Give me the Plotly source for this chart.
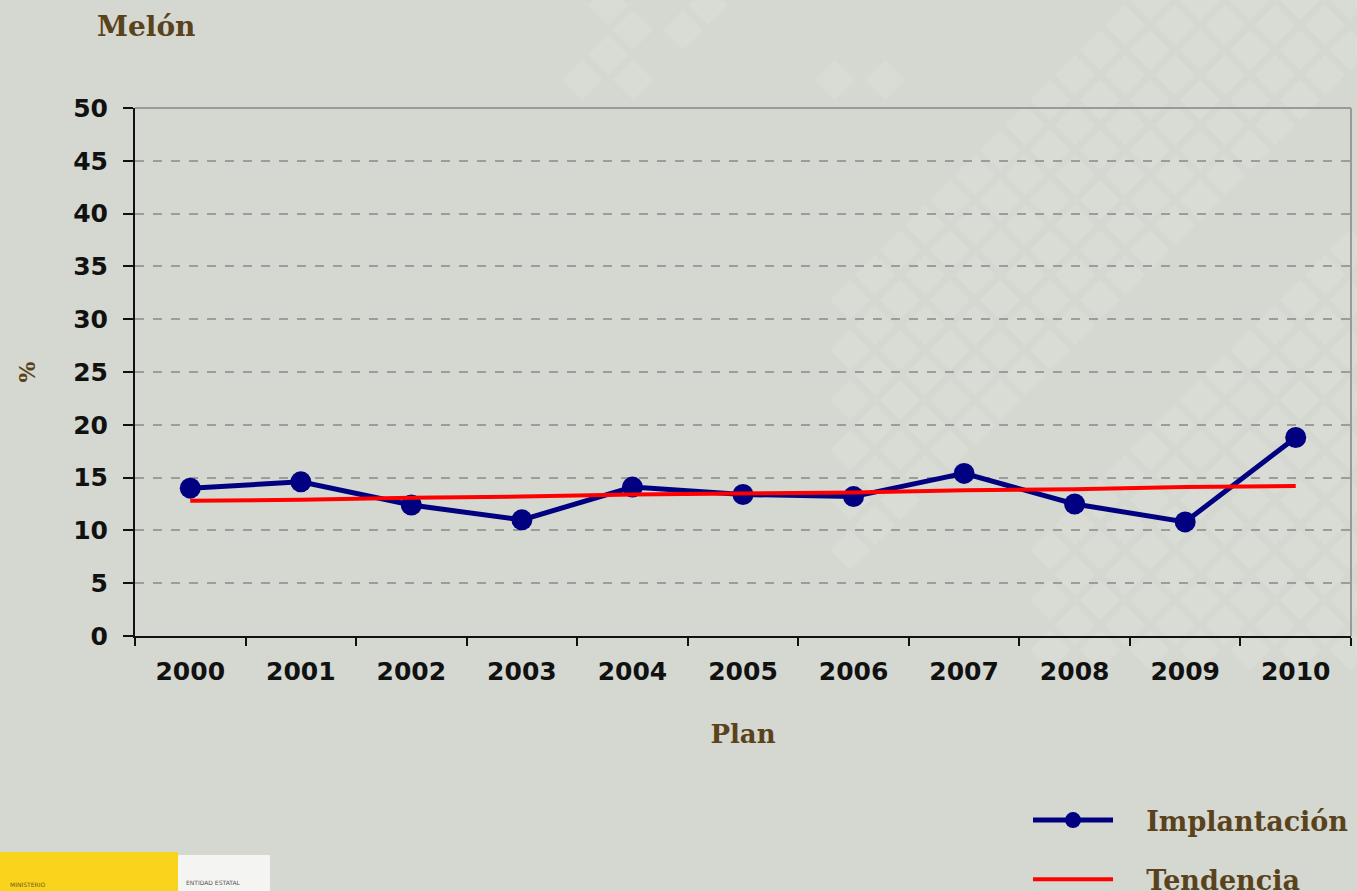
import plotly.graph_objects as go

years = ["2000", "2001", "2002", "2003", "2004", "2005", "2006", "2007", "2008", "2009", "2010"]
implantacion = [14.0, 14.6, 12.4, 11.0, 14.1, 13.4, 13.2, 15.4, 12.5, 10.8, 18.8]
tendencia = [12.8, 12.9, 13.1, 13.2, 13.4, 13.5, 13.6, 13.8, 13.9, 14.1, 14.2]
y_ticks = [0, 5, 10, 15, 20, 25, 30, 35, 40, 45, 50]

W, H = 1357, 891
L, R, T, B = 135, 1351, 108, 636
brown = "#5a431c"
bg = "#d4d8d0"
serif = "DejaVu Serif"
sans = "DejaVu Sans"


def px_x(x):
    return (x - L) / (R - L)


def px_y(y):
    return (B - y) / (B - T)


fig = go.Figure()
fig.add_trace(go.Scatter(
    x=years, y=implantacion, name="\u00a0\u00a0\u00a0Implantación", mode="lines+markers",
    line=dict(color="#000080", width=5),
    marker=dict(color="#000080", size=21, symbol="circle"),
    legendgroup="a",
))
fig.add_trace(go.Scatter(
    x=years, y=tendencia, name="\u00a0\u00a0\u00a0Tendencia", mode="lines",
    line=dict(color="#ff0000", width=4),
    legendgroup="b",
))

shapes = []


def diamond(cx, cy, half=20, color="rgba(236,238,232,0.22)"):
    path = (f"M {px_x(cx)},{px_y(cy - half)} L {px_x(cx + half)},{px_y(cy)} "
            f"L {px_x(cx)},{px_y(cy + half)} L {px_x(cx - half)},{px_y(cy)} Z")
    return dict(type="path", xref="paper", yref="paper", layer="below",
                path=path, fillcolor=color, line=dict(width=0))


# faint diamond texture of the slide background (decoration only)
step = 50
for row in range(0, 28):
    cy = row * (step / 2)
    for col in range(0, 30):
        cx = col * step + (step / 2 if row % 2 else 0)
        if cy > 660 or cx < 830:
            continue
        s = cx + cy
        if 1120 <= s <= 1420 or (s >= 1560 and cx >= 1040):
            shapes.append(diamond(cx, cy))

for cx, cy in [(582, 80), (633, 80), (608, 55), (633, 30), (608, 5), (683, 30), (708, 5),
               (835, 80), (885, 80)]:
    shapes.append(diamond(cx, cy))

# top and right plot borders (gray)
shapes.append(dict(type="line", xref="paper", yref="paper", x0=0, x1=1, y0=1, y1=1,
                   line=dict(color="#9a9a9a", width=2)))
shapes.append(dict(type="line", xref="paper", yref="paper", x0=1, x1=1, y0=0, y1=1,
                   line=dict(color="#9a9a9a", width=2)))


def px_rect(x0, y0, x1, y1, color):
    return dict(type="rect", xref="paper", yref="paper", layer="below",
                x0=px_x(x0), x1=px_x(x1), y0=px_y(y1), y1=px_y(y0),
                fillcolor=color, line=dict(width=0))


# logo blocks at the bottom left
shapes.append(px_rect(0, 852, 178, 891, "#f9d31c"))
shapes.append(px_rect(178, 855, 270, 891, "#f4f4f2"))

annotations = [
    dict(text="MINISTERIO", xref="paper", yref="paper", x=px_x(8), y=px_y(884),
         xanchor="left", yanchor="middle", showarrow=False,
         font=dict(family=sans, size=6, color="#6b5a20")),
    dict(text="ENTIDAD ESTATAL", xref="paper", yref="paper", x=px_x(184), y=px_y(882),
         xanchor="left", yanchor="middle", showarrow=False,
         font=dict(family=sans, size=6, color="#555555")),
]

fig.update_layout(
    width=W, height=H,
    paper_bgcolor=bg, plot_bgcolor="rgba(0,0,0,0)",
    margin=dict(l=L, r=W - R, t=T, b=H - B, autoexpand=False),
    title=dict(text="<b>Melón</b>", x=97 / W, xanchor="left", xref="container",
               y=1 - 26 / H, yanchor="middle",
               font=dict(family=serif, size=28, color=brown)),
    showlegend=True,
    legend=dict(
        x=1028 / W, xref="container", xanchor="left",
        y=1 - 796 / H, yref="container", yanchor="top",
        bgcolor="rgba(0,0,0,0)", itemwidth=80,
        font=dict(family=serif, size=27, color=brown, weight="bold"),
        traceorder="grouped", tracegroupgap=21,
    ),
    xaxis=dict(
        type="category", categoryorder="array", categoryarray=years,
        range=[-0.5, 10.5],
        tickson="boundaries", ticks="outside", ticklen=8, tickwidth=2, tickcolor="#111111",
        showline=True, linecolor="#111111", linewidth=2, showgrid=False,
        tickfont=dict(family=sans, size=25, color="#111111", weight="bold"),
        ticklabelstandoff=12,
        title=dict(text="<b>Plan</b>", font=dict(family=serif, size=26, color=brown), standoff=40),
        zeroline=False,
    ),
    yaxis=dict(
        range=[0, 50], tickvals=y_ticks, ticks="outside", ticklen=10, tickwidth=2, tickcolor="#111111",
        showline=True, linecolor="#111111", linewidth=2,
        showgrid=True, gridcolor="#9c9c9c", griddash="dash", gridwidth=1.5,
        tickfont=dict(family=sans, size=25, color="#111111", weight="bold"),
        ticklabelstandoff=10,
        title=dict(text="<b>%</b>", font=dict(family=serif, size=22, color=brown), standoff=32),
        zeroline=False,
    ),
    shapes=shapes,
    annotations=annotations,
)

fig.write_html("out.html", post_script="document.body.style.margin='0';",
               config={"displayModeBar": False})
